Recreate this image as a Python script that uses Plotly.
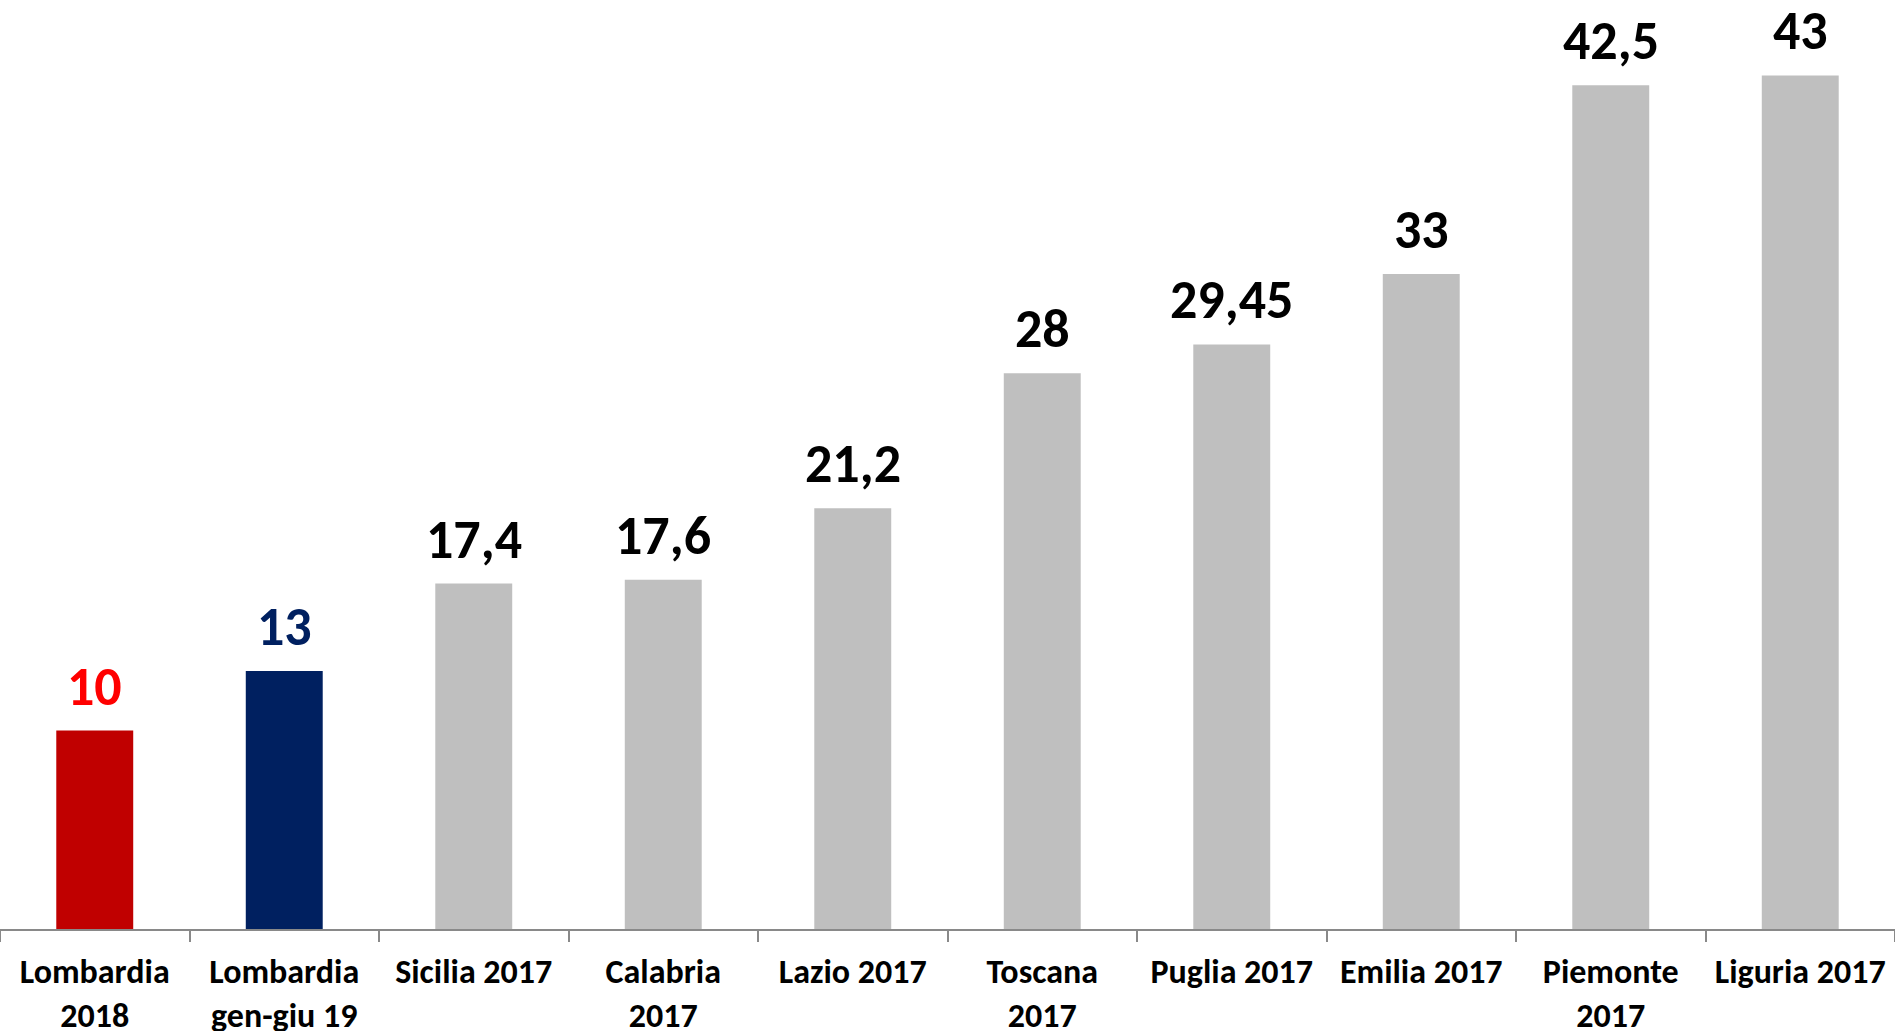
import plotly.graph_objects as go

categories = ["Lombardia<br>2018", "Lombardia<br>gen-giu 19", "Sicilia 2017", "Calabria<br>2017",
              "Lazio 2017", "Toscana<br>2017", "Puglia 2017", "Emilia 2017", "Piemonte<br>2017",
              "Liguria 2017"]
values = [10, 13, 17.4, 17.6, 21.2, 28, 29.45, 33, 42.5, 43]
bar_colors = ["#C00000", "#002060"] + ["#BFBFBF"] * 8
label_colors = ["#FF0000", "#002060"] + ["#000000"] * 8

FONT = "Carlito, Calibri, 'Open Sans', sans-serif"

fig = go.Figure()
fig.add_trace(go.Bar(
    x=categories, y=values, marker=dict(color=bar_colors, line=dict(width=0)),
    width=0.406, hoverinfo="skip",
))

for c, v, col in zip(categories, values, label_colors):
    fig.add_annotation(
        x=c, y=v, text="<b>" + f"{v:g}".replace(".", ",") + "</b>",
        showarrow=False, yanchor="bottom", yshift=9,
        font=dict(family=FONT, size=54, color=col),
    )

fig.update_layout(
    width=1895, height=1031,
    margin=dict(l=0, r=0, t=0, b=102),
    paper_bgcolor="white", plot_bgcolor="white",
    showlegend=False,
    font=dict(family=FONT),
    xaxis=dict(
        type="category", showline=True, linecolor="#898989", linewidth=2,
        ticks="outside", tickson="boundaries", ticklen=11, tickcolor="#898989", tickwidth=1.5,
        tickfont=dict(family=FONT, size=34, color="#000000"),
        ticklabelstandoff=11,
        showgrid=False, zeroline=False, tickangle=0, automargin=False,
    ),
    yaxis=dict(range=[0, 46.8], visible=False, showgrid=False, zeroline=False),
)
fig.update_xaxes(tickprefix="<b>", ticksuffix="</b>")

fig.write_html("out.html", config={"displayModeBar": False},
               post_script="document.body.style.margin='0';document.body.style.overflow='hidden';")
